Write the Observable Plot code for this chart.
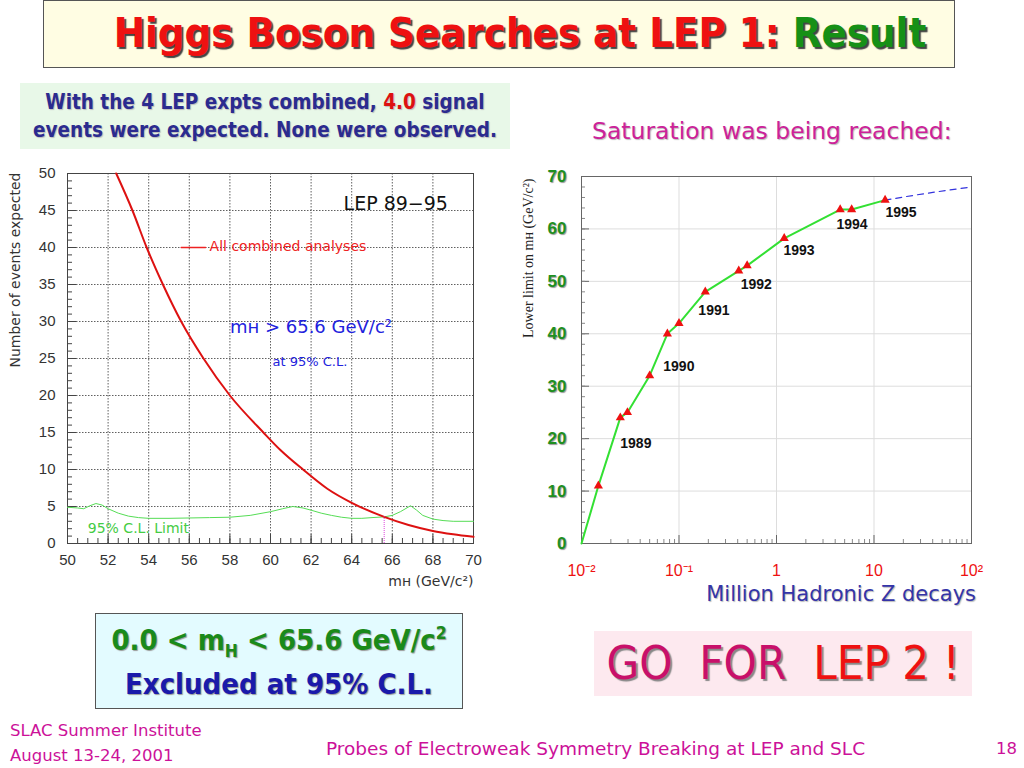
<!DOCTYPE html>
<html><head><meta charset="utf-8">
<script src="https://cdn.jsdelivr.net/npm/d3@7"></script>
<script src="https://cdn.jsdelivr.net/npm/@observablehq/plot@0.6"></script>
<style>
body{margin:0;width:1024px;height:768px;background:#fff;position:relative;overflow:hidden;
 font-family:"Comic Sans MS","DejaVu Sans",sans-serif;}
.abs{position:absolute;}
.cond{font-family:"Comic Sans MS","DejaVu Sans Condensed","DejaVu Sans",sans-serif;}
#title{left:43px;top:0;width:912px;height:68px;background:#fffde3;border:1px solid #555;box-sizing:border-box;
 text-align:center;font-size:41.5px;line-height:64px;font-weight:bold;white-space:nowrap;padding-left:42px;}
#title .r{color:#ee1111;text-shadow:2px 2px 1px #444;}
#title .g{color:#169016;text-shadow:2px 2px 1px #444;}
#box1{left:20px;top:83px;width:490px;height:66px;background:#e8f8e8;text-align:center;font-size:20.5px;
 line-height:28px;color:#2b2b8f;padding-top:5px;box-sizing:border-box;text-shadow:1px 1px 1px #bbb;font-weight:bold;white-space:nowrap;}
#box1 .red{color:#dd1111;}
#sat{left:592px;top:117px;font-size:23.5px;color:#cc2299;text-shadow:1px 1px 1px #bbb;white-space:nowrap;}
#mz{left:600px;top:582px;width:376px;text-align:right;font-size:21px;color:#3434a8;text-shadow:1px 1px 1px #bbb;white-space:nowrap;}
#box2{left:95px;top:613px;width:368px;height:96px;background:#e3fbff;border:1px solid #555;box-sizing:border-box;
 text-align:center;font-size:29px;line-height:44px;padding-top:4px;font-weight:bold;text-shadow:1px 1px 1px #999;white-space:nowrap;}
#box2 .g{color:#1a8a1a;} #box2 .b{color:#1a1aaa;}
#box2 sub,#box2 sup{font-size:60%;line-height:0;}
#box3{left:594px;top:631px;width:378px;height:65px;background:#fde9ef;text-align:center;font-size:47px;line-height:64px;
 white-space:nowrap;text-shadow:2px 2px 1px #888;}
#box3 .m{color:#c8106a;} #box3 .r{color:#ee1111;}
.foot{color:#cc1199;font-size:16.5px;white-space:nowrap;}
#left{left:0;top:155px;} #right{left:510px;top:160px;}
.rightplot g[aria-label="y-axis tick label"] text{text-shadow:1px 1px 1px #999;}
</style></head>
<body>
<div id="title" class="abs cond"><span class="r">Higgs Boson Searches at LEP 1:</span> <span class="g">Result</span></div>
<div id="box1" class="abs cond">With the 4 LEP expts combined, <span class="red">4.0</span> signal<br>events were expected. None were observed.</div>
<div id="sat" class="abs">Saturation was being reached:</div>
<div id="left" class="abs"></div>
<div id="right" class="abs"></div>
<div id="mz" class="abs">Million Hadronic Z decays</div>
<div id="box2" class="abs cond"><span class="g">0.0 &lt; m<sub>H</sub> &lt; 65.6 GeV/c<sup>2</sup></span><br><span class="b">Excluded at 95% C.L.</span></div>
<div id="box3" class="abs cond"><span class="m">GO&nbsp; FOR</span>&nbsp; <span class="r">LEP 2 !</span></div>
<div class="abs foot" style="left:10px;top:721px;">SLAC Summer Institute</div>
<div class="abs foot" style="left:10px;top:746px;">August 13-24, 2001</div>
<div class="abs foot" style="left:326px;top:738px;font-size:18.5px;">Probes of Electroweak Symmetry Breaking at LEP and SLC</div>
<div class="abs foot" style="left:996px;top:739px;">18</div>
<script>
// ---------- Left chart data ----------
const xTicksL = [50, 52, 54, 56, 58, 60, 62, 64, 66, 68, 70];
const yTicksL = [0, 5, 10, 15, 20, 25, 30, 35, 40, 45, 50];
const redMass = [52.4, 53.2, 53.9, 54.7, 55.6, 56.7, 58.0, 59.65, 60.5, 61.6, 62.8, 64.0, 65.6, 66.8, 68.0, 69.0, 70.0];
const redEvents = [50, 45, 40, 35, 30, 25, 20, 15, 12.6, 10, 7.4, 5.5, 3.6, 2.5, 1.7, 1.25, 0.9];
const limMass = [50.0, 50.5, 50.8, 51.1, 51.4, 51.7, 52.0, 52.5, 53.0, 53.5, 54.0, 55.0, 56.0, 57.0, 58.0, 59.0, 60.0, 60.6, 61.1, 61.6, 62.0, 62.5, 63.0, 63.5, 64.0, 64.5, 65.0, 65.6, 66.0, 66.4, 66.9, 67.2, 67.5, 68.0, 68.5, 69.0, 70.0];
const limEvents = [4.9, 4.8, 4.7, 5.1, 5.4, 5.2, 4.7, 4.1, 3.7, 3.5, 3.4, 3.4, 3.45, 3.5, 3.55, 3.8, 4.3, 4.7, 5.0, 4.8, 4.5, 4.1, 3.8, 3.55, 3.4, 3.4, 3.5, 3.6, 3.8, 4.3, 5.1, 4.5, 3.8, 3.3, 3.1, 3.0, 3.0];
const massLimit = 65.6;
const leftNotes = [
  {t: "LEP 89\u221295", x: 63.6, y: 45.9, c: "#111", s: 19},
  {t: "All combined analyses", x: 57.0, y: 40.1, c: "#ee2222", s: 14},
  {t: "m\u029C > 65.6 GeV/c\u00B2", x: 58.0, y: 29.2, c: "#2222dd", s: 18},
  {t: "at 95% C.L.", x: 60.1, y: 24.6, c: "#2222dd", s: 13},
  {t: "95% C.L. Limit", x: 51.0, y: 2.0, c: "#44cc44", s: 14}
];
const legendLine = [{x: 55.6, y: 40}, {x: 56.8, y: 40}];

// ---------- Right chart data ----------
const zDecays = [0.01, 0.0149, 0.025, 0.0296, 0.050, 0.076, 0.10, 0.186, 0.41, 0.50, 1.2, 4.5, 5.9, 13];
const massBound = [0, 11, 24, 25, 32, 40, 42, 48, 52, 53, 58.2, 63.7, 63.7, 65.5];
const projDecays = [13, 35, 100];
const projBound = [65.5, 66.8, 68.0];
const xTicksR = [0.01, 0.1, 1, 10, 100];
const xTickLabelsR = ["10\u207B\u00B2", "10\u207B\u00B9", "1", "10", "10\u00B2"];
const yTicksR = [0, 10, 20, 30, 40, 50, 60, 70];
const years = ["1989", "1990", "1991", "1992", "1993", "1994", "1995"];
const yearX = [0.025, 0.069, 0.158, 0.43, 1.18, 4.12, 13.1];
const yearY = [19.1, 33.8, 44.5, 49.4, 55.9, 60.9, 63.2];

// minor tick positions
const xMinorL = d3.range(50, 70.001, 0.5);
const yMinorL = d3.range(0, 50.001, 1);
const yMinorR = d3.range(0, 70.001, 2);
const xMinorR = [];
for (const e of [-2, -1, 0, 1]) for (let k = 2; k <= 9; k++) xMinorR.push(k * Math.pow(10, e));

const redData = redMass.map((m, i) => ({m, n: redEvents[i]}));
const limData = limMass.map((m, i) => ({m, n: limEvents[i]}));

const plotFont = "'DejaVu Sans', 'Liberation Sans', sans-serif";
const fwL = 510 - 67 - 37, fhL = 445 - 18 - 57;
const left = Plot.plot({
  width: 510, height: 445,
  marginLeft: 67, marginRight: 37, marginTop: 18, marginBottom: 57,
  style: {fontFamily: "'Liberation Sans', Arial, sans-serif", fontSize: "15px", color: "#333", background: "transparent", overflow: "visible"},
  x: {domain: [50, 70], label: null},
  y: {domain: [0, 50], label: null},
  marks: [
    Plot.gridX(xTicksL, {stroke: "#444", strokeOpacity: 0.85, strokeDasharray: "1.5,1.5"}),
    Plot.gridY(yTicksL, {stroke: "#444", strokeOpacity: 0.85, strokeDasharray: "1.5,1.5"}),
    Plot.tickX(xTicksL, {insetTop: fhL - 9, stroke: "#444"}),
    Plot.tickX(xMinorL, {insetTop: fhL - 5, stroke: "#444"}),
    Plot.tickY(yTicksL, {insetRight: fwL - 9, stroke: "#444"}),
    Plot.tickY(yMinorL, {insetRight: fwL - 5, stroke: "#444"}),
    Plot.axisX(xTicksL, {tickSize: 0, tickPadding: 11, fontSize: 15}),
    Plot.axisY(yTicksL, {tickSize: 0, tickPadding: 12, fontSize: 15}),
    Plot.frame({stroke: "#444"}),
    Plot.line(limData, {x: "m", y: "n", stroke: "#55dd55", strokeWidth: 1}),
    Plot.line(redData, {x: "m", y: "n", stroke: "#dd1111", strokeWidth: 2, curve: "monotone-x"}),
    Plot.ruleX([massLimit], {y1: 0, y2: 3.6, stroke: "#dd44dd", strokeDasharray: "1,1"}),
    Plot.line(legendLine, {x: "x", y: "y", stroke: "#ee2222", strokeWidth: 1.5}),
    Plot.text(leftNotes, {x: "x", y: "y", text: "t", fill: "c", fontSize: "s", textAnchor: "start", fontFamily: plotFont}),
    Plot.text(["Number of events expected"], {frameAnchor: "top-left", rotate: -90, textAnchor: "end", dx: -57, dy: -1, fontSize: 14, fill: "#333", fontFamily: plotFont}),
    Plot.text(["m\u029C (GeV/c\u00B2)"], {frameAnchor: "bottom-right", textAnchor: "end", dy: 42, fontSize: 14, fill: "#333", fontFamily: plotFont})
  ]
});
document.getElementById("left").append(left);

const mainData = zDecays.map((z, i) => ({z, b: massBound[i]}));
const projData = projDecays.map((z, i) => ({z, b: projBound[i]}));
const yearData = years.map((t, i) => ({t, x: yearX[i], y: yearY[i]}));
const fwR = 500 - 71 - 39, fhR = 450 - 16 - 67;
const right = Plot.plot({
  width: 500, height: 450,
  marginLeft: 71, marginRight: 39, marginTop: 16, marginBottom: 67,
  className: "rightplot",
  style: {fontFamily: "'Liberation Sans', Arial, sans-serif", fontSize: "15px", background: "transparent", overflow: "visible"},
  x: {type: "log", domain: [0.01, 100], label: null},
  y: {domain: [0, 70], label: null},
  marks: [
    Plot.gridX(xTicksR, {stroke: "#ddd", strokeOpacity: 1}),
    Plot.gridY(yTicksR, {stroke: "#ddd", strokeOpacity: 1}),
    Plot.tickX(xTicksR, {insetTop: fhR - 8, stroke: "#666"}),
    Plot.tickX(xMinorR, {insetTop: fhR - 4, stroke: "#888"}),
    Plot.tickY(yTicksR, {insetRight: fwR - 8, stroke: "#666"}),
    Plot.tickY(yMinorR, {insetRight: fwR - 4, stroke: "#888"}),
    Plot.axisX(xTicksR, {tickSize: 0, tickPadding: 21, fontSize: 16, fill: "#ee1111", tickFormat: d => xTickLabelsR[xTicksR.indexOf(d)]}),
    Plot.axisY(yTicksR, {tickSize: 0, tickPadding: 15, fontSize: 17, fontWeight: "bold", fill: "#1f8f1f"}),
    Plot.frame({stroke: "#666"}),
    Plot.line(projData, {x: "z", y: "b", stroke: "#3333dd", strokeWidth: 1.2, strokeDasharray: "6,5", curve: "natural"}),
    Plot.line(mainData, {x: "z", y: "b", stroke: "#33e033", strokeWidth: 2}),
    Plot.dot(mainData.slice(1), {x: "z", y: "b", symbol: "triangle", fill: "#ee1111", r: 3.4}),
    Plot.text(yearData, {x: "x", y: "y", text: "t", textAnchor: "start", fontSize: 14, fontWeight: "bold", fill: "#111"}),
    Plot.text(["Lower limit on m\u029C (GeV/c\u00B2)"], {frameAnchor: "top-left", rotate: -90, textAnchor: "end", dx: -58, dy: 2, fontSize: 14, fill: "#222", fontFamily: "'Liberation Serif', 'DejaVu Serif', serif"})
  ]
});
document.getElementById("right").append(right);
</script>
</body></html>
